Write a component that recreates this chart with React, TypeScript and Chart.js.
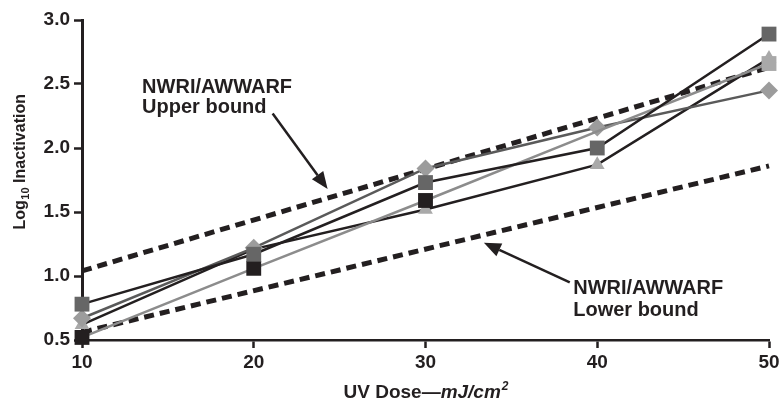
import React, { useEffect, useRef } from 'react';
import { Chart, registerables } from 'chart.js';

Chart.register(...registerables);

const doses = [10, 20, 30, 40, 50];
const seriesDarkSquare = [0.78, 1.17, 1.73, 2.0, 2.89];
const seriesBlackSquare = [0.52, 1.06, 1.59, 2.13, 2.66];
const seriesDiamond = [0.67, 1.22, 1.84, 2.16, 2.45];
const seriesTriangle = [0.62, 1.21, 1.52, 1.87, 2.7];
const boundDoses = [10, 50];
const upperBound = [1.04, 2.63];
const lowerBound = [0.56, 1.86];
const xTicks = [10, 20, 30, 40, 50];
const yTicks = [0.5, 1.0, 1.5, 2.0, 2.5, 3.0];

const labelLine1 = 'NWRI/AWWARF';
const upperLabel2 = 'Upper bound';
const lowerLabel2 = 'Lower bound';
// annotation anchors in data units [dose, log]
const upperTextAt = [13.5, 2.43];
const upperArrow = [[21.1, 2.27], [24.3, 1.68]];
const lowerTextAt = [38.6, 0.86];
const lowerArrow = [[38.4, 0.95], [33.4, 1.26]];

const INK = '#231f20';
const FONT = "'Liberation Sans', Arial, sans-serif";

const pts = (xs: number[], ys: number[]) => xs.map((x, i) => ({ x, y: ys[i] }));

const annotationPlugin = {
  id: 'annotations',
  afterDraw(chart: any) {
    const { ctx, chartArea, scales } = chart;
    const xs = scales.x;
    const ys = scales.y;
    const px = (v: number) => xs.getPixelForValue(v);
    const py = (v: number) => ys.getPixelForValue(v);
    ctx.save();
    ctx.fillStyle = INK;
    ctx.strokeStyle = INK;

    // labels
    ctx.font = `bold 20px ${FONT}`;
    ctx.textAlign = 'left';
    ctx.textBaseline = 'alphabetic';
    const lh = 20;
    ctx.fillText(labelLine1, px(upperTextAt[0]), py(upperTextAt[1]));
    ctx.fillText(upperLabel2, px(upperTextAt[0]), py(upperTextAt[1]) + lh);
    ctx.fillText(labelLine1, px(lowerTextAt[0]), py(lowerTextAt[1]));
    ctx.fillText(lowerLabel2, px(lowerTextAt[0]), py(lowerTextAt[1]) + lh + 2);

    // arrows
    const arrow = (a: number[][]) => {
      const x1 = px(a[0][0]), y1 = py(a[0][1]);
      const x2 = px(a[1][0]), y2 = py(a[1][1]);
      const ang = Math.atan2(y2 - y1, x2 - x1);
      const hl = 17, hw = 7;
      const bx = x2 - Math.cos(ang) * hl, by = y2 - Math.sin(ang) * hl;
      ctx.lineWidth = 2.5;
      ctx.beginPath();
      ctx.moveTo(x1, y1);
      ctx.lineTo(bx, by);
      ctx.stroke();
      ctx.beginPath();
      ctx.moveTo(x2, y2);
      ctx.lineTo(bx + Math.sin(ang) * hw, by - Math.cos(ang) * hw);
      ctx.lineTo(bx - Math.sin(ang) * hw, by + Math.cos(ang) * hw);
      ctx.closePath();
      ctx.fill();
    };
    arrow(upperArrow);
    arrow(lowerArrow);

    // x title
    const cx = (chartArea.left + chartArea.right) / 2;
    const baseY = 398;
    const p1 = 'UV Dose\u2014';
    const p2 = 'mJ/cm';
    const p3 = '2';
    ctx.font = `bold 19px ${FONT}`;
    const w1 = ctx.measureText(p1).width;
    ctx.font = `italic bold 19px ${FONT}`;
    const w2 = ctx.measureText(p2).width;
    ctx.font = `italic bold 12px ${FONT}`;
    const w3 = ctx.measureText(p3).width;
    let sx = cx - (w1 + w2 + w3) / 2;
    ctx.font = `bold 19px ${FONT}`;
    ctx.fillText(p1, sx, baseY);
    sx += w1;
    ctx.font = `italic bold 19px ${FONT}`;
    ctx.fillText(p2, sx, baseY);
    sx += w2;
    ctx.font = `italic bold 12px ${FONT}`;
    ctx.fillText(p3, sx + 1, baseY - 8);

    // y title
    const q1 = 'Log';
    const q2 = '10';
    const q3 = ' Inactivation';
    ctx.font = `bold 16px ${FONT}`;
    const v1 = ctx.measureText(q1).width;
    const v3 = ctx.measureText(q3).width;
    ctx.font = `bold 11px ${FONT}`;
    const v2 = ctx.measureText(q2).width;
    const cy = (chartArea.top + chartArea.bottom) / 2 - 18;
    ctx.translate(25, cy);
    ctx.rotate(-Math.PI / 2);
    let tx = -(v1 + v2 + v3) / 2;
    ctx.font = `bold 16px ${FONT}`;
    ctx.fillText(q1, tx, 0);
    tx += v1;
    ctx.font = `bold 11px ${FONT}`;
    ctx.fillText(q2, tx + 0.5, 4);
    tx += v2 + 0.5;
    ctx.font = `bold 16px ${FONT}`;
    ctx.fillText(q3, tx, 0);
    ctx.restore();
  },
};

export default function App() {
  const ref = useRef<HTMLCanvasElement>(null);
  useEffect(() => {
    if (!ref.current) return;
    const chart = new Chart(ref.current, {
      type: 'line',
      data: {
        datasets: [
          {
            data: pts(doses, seriesDarkSquare),
            borderColor: INK,
            borderWidth: 2.5,
            pointStyle: 'rect',
            pointRadius: 10.5,
            pointBackgroundColor: '#666666',
            pointBorderWidth: 0,
            tension: 0,
            clip: false,
          },
          {
            data: pts(doses, seriesBlackSquare),
            borderColor: '#8c8c8c',
            borderWidth: 2.5,
            pointStyle: 'rect',
            pointRadius: [10.5, 10.5, 10.5, 0, 10.5],
            pointBackgroundColor: [INK, INK, INK, INK, '#a9a9a9'],
            pointBorderWidth: 0,
            tension: 0,
            clip: false,
          },
          {
            data: pts(doses, seriesDiamond),
            borderColor: '#5a5a5a',
            borderWidth: 2.5,
            pointStyle: 'rectRot',
            pointRadius: 9,
            pointBackgroundColor: '#9c9c9c',
            pointBorderWidth: 0,
            tension: 0,
            clip: false,
          },
          {
            data: pts(doses, seriesTriangle),
            borderColor: INK,
            borderWidth: 2.5,
            pointStyle: 'triangle',
            pointRadius: 8.5,
            pointBackgroundColor: '#a9a9a9',
            pointBorderWidth: 0,
            tension: 0,
            clip: false,
          },
          {
            data: pts(boundDoses, upperBound),
            borderColor: INK,
            borderWidth: 5,
            borderDash: [10, 6],
            pointRadius: 0,
            clip: false,
          },
          {
            data: pts(boundDoses, lowerBound),
            borderColor: INK,
            borderWidth: 5,
            borderDash: [10, 6],
            pointRadius: 0,
            clip: false,
          },
        ],
      },
      options: {
        responsive: false,
        animation: false,
        events: [],
        layout: { padding: { top: 20, right: 11, left: 0, bottom: 0 } },
        plugins: { legend: { display: false }, tooltip: { enabled: false } },
        scales: {
          x: {
            type: 'linear',
            min: 10,
            max: 50,
            afterBuildTicks: (s: any) => {
              s.ticks = xTicks.map((v) => ({ value: v }));
            },
            afterFit: (s: any) => {
              s.height = 60;
              s.paddingLeft = 0;
              s.paddingRight = 0;
            },
            ticks: {
              color: INK,
              font: { family: FONT, size: 19, weight: 'bold' },
              padding: 3,
              maxRotation: 0,
              callback: (v: any) => String(v),
            },
            grid: {
              drawOnChartArea: false,
              drawTicks: true,
              tickLength: 8,
              tickWidth: 2.5,
              tickColor: INK,
            },
            border: { display: true, color: INK, width: 2.5 },
          },
          y: {
            type: 'linear',
            min: 0.5,
            max: 3.0,
            afterBuildTicks: (s: any) => {
              s.ticks = yTicks.map((v) => ({ value: v }));
            },
            afterFit: (s: any) => {
              s.width = 82;
              s.paddingTop = 0;
              s.paddingBottom = 0;
            },
            ticks: {
              color: INK,
              font: { family: FONT, size: 19, weight: 'bold' },
              padding: 4,
              callback: (v: any) => Number(v).toFixed(1),
            },
            grid: {
              drawOnChartArea: false,
              drawTicks: true,
              tickLength: 8,
              tickWidth: 2.5,
              tickColor: INK,
            },
            border: { display: true, color: INK, width: 3 },
          },
        },
      } as any,
      plugins: [annotationPlugin],
    });
    return () => chart.destroy();
  }, []);
  return (
    <div style={{ position: 'absolute', left: 0, top: 0, width: 780, height: 400, background: '#fff' }}>
      <canvas ref={ref} width={780} height={400} />
    </div>
  );
}
